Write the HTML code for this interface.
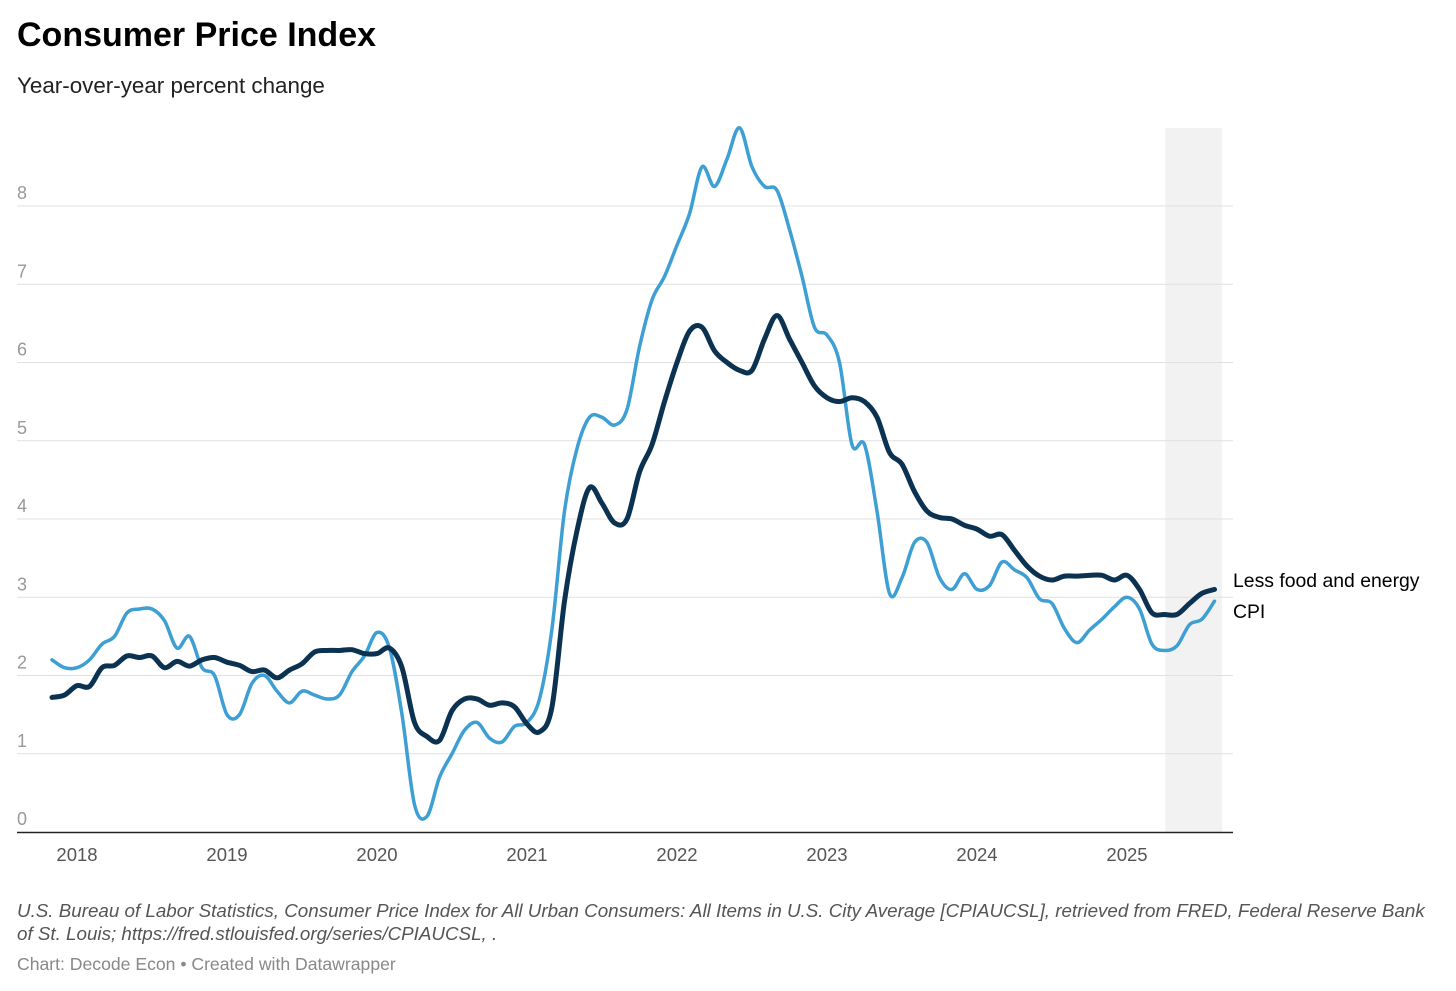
<!DOCTYPE html>
<html><head><meta charset="utf-8"><style>
body{margin:0;width:1456px;height:991px;background:#fff;font-family:"Liberation Sans",sans-serif;overflow:hidden;position:relative}
.t{position:absolute;white-space:nowrap}
</style></head><body>
<div class="t" style="left:17px;top:16px;font-size:34px;font-weight:bold;color:#000">Consumer Price Index</div>
<div class="t" style="left:17px;top:73px;font-size:22.4px;color:#222">Year-over-year percent change</div>
<svg id="chart" width="1456" height="880" style="position:absolute;left:0;top:0" font-family="Liberation Sans, sans-serif"></svg>
<div class="t" style="left:17px;top:899px;font-size:18.8px;font-style:italic;color:#555;line-height:23px">U.S. Bureau of Labor Statistics, Consumer Price Index for All Urban Consumers: All Items in U.S. City Average [CPIAUCSL], retrieved from FRED, Federal Reserve Bank<br>of St. Louis; https://fred.stlouisfed.org/series/CPIAUCSL, .</div>
<div class="t" style="left:17px;top:954px;font-size:17.6px;color:#888">Chart: Decode Econ • Created with Datawrapper</div>
<script>
const yTicks=[0,1,2,3,4,5,6,7,8];
const xYears=[2018,2019,2020,2021,2022,2023,2024,2025];
const startMonth=[2017,11];
const cpi=[2.2,2.1,
2.1,2.2,2.4,2.5,2.8,2.85,2.85,2.7,2.35,2.5,2.1,2.0,
1.5,1.5,1.9,2.0,1.8,1.65,1.8,1.75,1.7,1.75,2.05,2.25,
2.55,2.35,1.5,0.35,0.2,0.7,1.0,1.3,1.4,1.2,1.15,1.35,
1.4,1.7,2.6,4.1,4.9,5.3,5.3,5.2,5.4,6.2,6.8,7.1,
7.5,7.9,8.5,8.25,8.6,9.0,8.5,8.25,8.2,7.7,7.1,6.45,
6.35,6.0,4.95,4.95,4.1,3.05,3.25,3.7,3.7,3.25,3.1,3.3,
3.1,3.15,3.45,3.35,3.25,2.98,2.92,2.6,2.42,2.58,2.72,2.88,
3.0,2.85,2.4,2.32,2.38,2.65,2.72,2.95];
const core=[1.72,1.75,
1.87,1.86,2.1,2.13,2.25,2.23,2.25,2.1,2.18,2.12,2.2,2.23,
2.17,2.13,2.05,2.07,1.97,2.07,2.15,2.3,2.32,2.32,2.33,2.28,
2.28,2.35,2.1,1.4,1.22,1.17,1.55,1.7,1.7,1.62,1.65,1.6,
1.38,1.28,1.6,2.95,3.85,4.4,4.2,3.95,4.0,4.6,4.95,5.5,
6.0,6.4,6.45,6.15,6.0,5.9,5.9,6.3,6.6,6.3,6.0,5.7,
5.55,5.5,5.55,5.5,5.3,4.85,4.7,4.35,4.1,4.02,4.0,3.92,
3.87,3.78,3.8,3.6,3.4,3.27,3.22,3.27,3.27,3.28,3.28,3.22,
3.28,3.1,2.8,2.78,2.78,2.92,3.05,3.1];
const shadeStartIndex=89;
const NS="http://www.w3.org/2000/svg";
const svg=document.getElementById('chart');
const y=v=>832-v*78.25;
const xm=i=>52+i*12.5;
const xYear=yr=>xm((yr-startMonth[0])*12+1-startMonth[1]);
function mk(t,a){const e=document.createElementNS(NS,t);for(const k in a)e.setAttribute(k,a[k]);svg.appendChild(e);return e;}
const sh=mk('rect',{x:xm(shadeStartIndex)+1,y:128,width:1222-xm(shadeStartIndex)-1,height:704,fill:'#f2f2f2'});


yTicks.forEach(v=>{
 if(v>0){const g=mk('line',{x1:17,x2:1233,y1:y(v),y2:y(v),stroke:'#e0e0e0','stroke-width':1});
 
 }
 const t=mk('text',{x:17,y:y(v)-7,'font-size':18,fill:'#999'});t.textContent=v;
 
 
});
const ax=mk('line',{x1:17,x2:1233,y1:832.5,y2:832.5,stroke:'#222','stroke-width':1.5});


xYears.forEach(yr=>{const t=mk('text',{x:xYear(yr),y:861,'font-size':18.5,fill:'#555','text-anchor':'middle'});t.textContent=yr;
 
 });
function path(d){const p=d.map((v,i)=>[xm(i),y(v)]);let s='M'+p[0][0]+','+p[0][1];
 for(let i=0;i<p.length-1;i++){const p0=p[Math.max(0,i-1)],p1=p[i],p2=p[i+1],p3=p[Math.min(p.length-1,i+2)];
 s+=' C'+(p1[0]+(p2[0]-p0[0])/6)+','+(p1[1]+(p2[1]-p0[1])/6)+' '+(p2[0]-(p3[0]-p1[0])/6)+','+(p2[1]-(p3[1]-p1[1])/6)+' '+p2[0]+','+p2[1];}return s;}
const l1=mk('path',{d:path(cpi),fill:'none',stroke:'#3d9fd3','stroke-width':3.5,'stroke-linejoin':'round','stroke-linecap':'round'});


const l2=mk('path',{d:path(core),fill:'none',stroke:'#0b3251','stroke-width':5,'stroke-linejoin':'round','stroke-linecap':'round'});


const a=mk('text',{x:1233,y:587,'font-size':19.4,fill:'#000'});a.textContent='Less food and energy';


const b=mk('text',{x:1233,y:618,'font-size':19.4,fill:'#000'});b.textContent='CPI';


</script>
</body></html>
